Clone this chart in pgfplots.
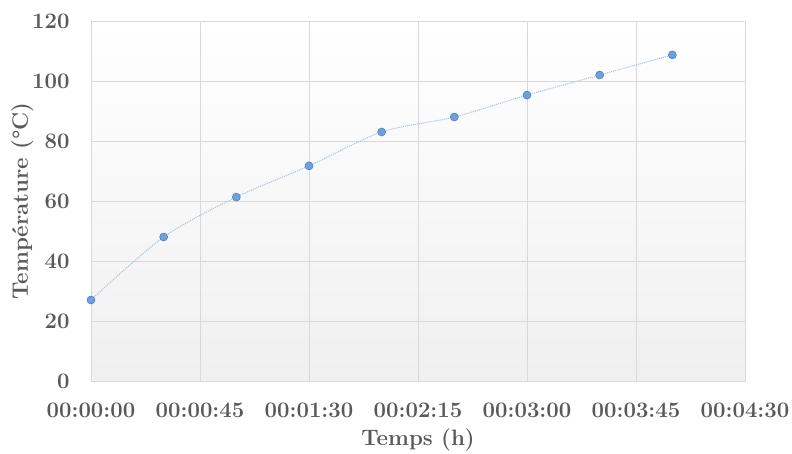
\documentclass[border=0pt]{standalone}
\usepackage{fontspec}
\usepackage{pgfplots}
\pgfplotsset{compat=1.18}
\definecolor{txt}{HTML}{595959}
\definecolor{gridc}{HTML}{D9D9D9}
\definecolor{linec}{HTML}{9DC3E6}
\definecolor{markf}{HTML}{6FA0DC}
\definecolor{markd}{HTML}{4F81BD}
\begin{document}
\begin{tikzpicture}
\path[use as bounding box] (0,0) rectangle (792bp,454bp);
\begin{axis}[
  at={(91bp,73bp)}, anchor=south west,
  scale only axis, width=654bp, height=360bp,
  xmin=0, xmax=270, ymin=0, ymax=120,
  xtick={0,45,...,270},
  xticklabels={00:00:00,00:00:45,00:01:30,00:02:15,00:03:00,00:03:45,00:04:30},
  ytick={0,20,...,120},
  major tick length=0pt,
  grid=major,
  grid style={gridc, line width=0.6pt},
  axis line style={gridc, line width=0.8pt},
  axis background/.style={shade, top color=white, bottom color=black!6},
  tick label style={font=\fontsize{22.2}{26}\selectfont\bfseries, text=txt},
  /pgf/number format/assume math mode=true,
  label style={font=\fontsize{22.4}{26}\selectfont\bfseries, text=txt},
  xticklabel shift=18bp,
  yticklabel shift=18bp,
  xlabel={Temps (h)},
  ylabel={Température (°C)},
  xlabel style={at={(axis description cs:0.5,-0.164)}, anchor=center},
  ylabel style={at={(axis description cs:-0.105,0.5)}, anchor=center, rotate=0},
]
\addplot[smooth, densely dotted, color=linec, line width=1pt,
  mark=*, mark size=4pt, mark options={solid, fill=markf, draw=markd, line width=0.6pt}]
  coordinates {
  (0,27) (30,48) (60,61.3) (90,71.7) (120,83) (150,88) (180,95.3) (210,102) (240,108.7)
  };
\end{axis}
\end{tikzpicture}
\end{document}
